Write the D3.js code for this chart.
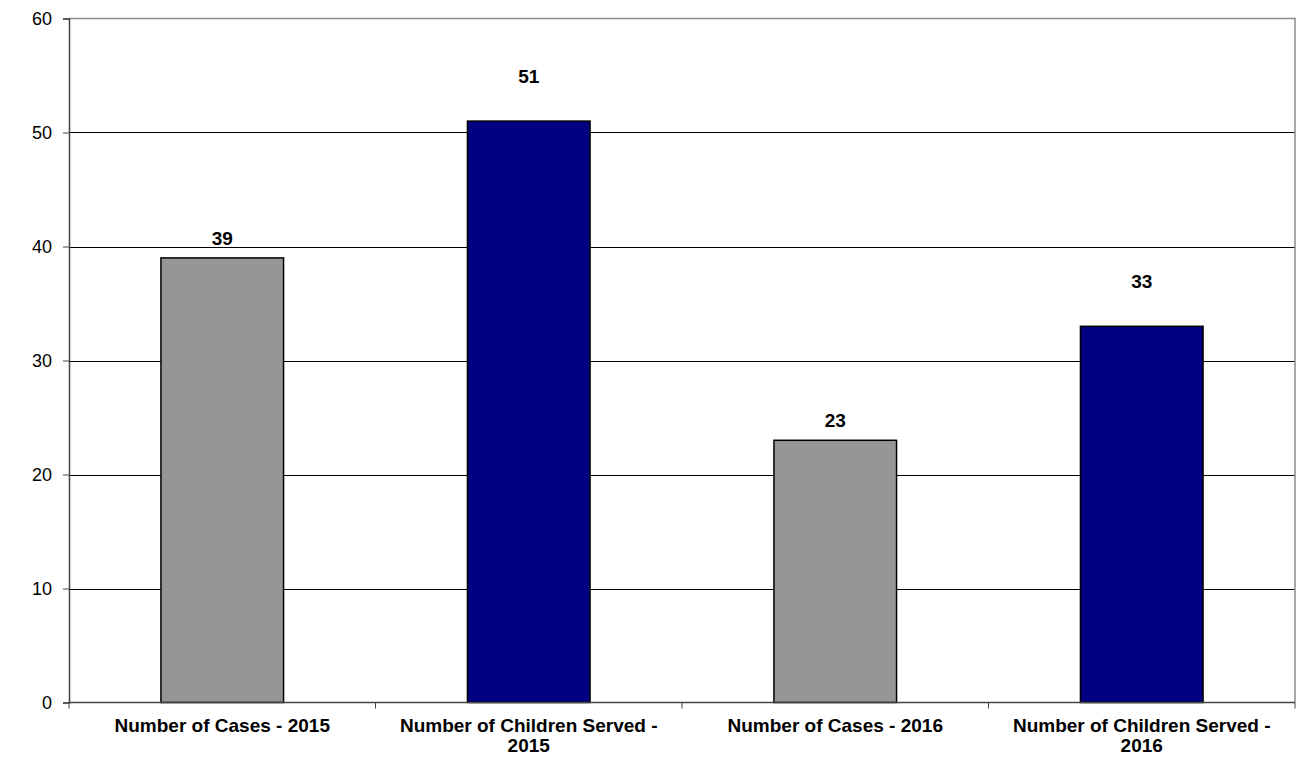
<!DOCTYPE html>
<html><head><meta charset="utf-8">
<script src="https://cdn.jsdelivr.net/npm/d3@7"></script>
<style>body{margin:0;background:#fff}svg{display:block}text{font-family:"Liberation Sans",Arial,sans-serif}</style>
</head><body><svg id="c" width="1303" height="757"></svg>
<script>
const categories = [["Number of Cases - 2015"],["Number of Children Served -","2015"],["Number of Cases - 2016"],["Number of Children Served -","2016"]];
const values = [39, 51, 23, 33];
const seriesType = ["cases","children","cases","children"];
const yTicks = [0,10,20,30,40,50,60];
const colors = {cases:"#969696", children:"#000080"};
const labelOffset = {cases:13, children:38};

const svg = d3.select("#c");
const m = {l:69, r:1295, t:18.5, b:702.5};
const x = d3.scaleBand().domain(d3.range(values.length)).range([m.l, m.r]).paddingInner(0).paddingOuter(0);
const y = d3.scaleLinear().domain([0,60]).range([m.b, m.t]);

// gridlines
svg.append("g").selectAll("line").data(yTicks.filter(d=>d>0 && d<60)).join("line")
  .attr("x1",m.l).attr("x2",m.r).attr("y1",d=>Math.round(y(d))+0.5).attr("y2",d=>Math.round(y(d))+0.5)
  .attr("stroke","#000").attr("stroke-width",1);
// top/right frame
svg.append("path").attr("d",`M${m.l},${m.t}H${m.r}V${m.b}`).attr("fill","none").attr("stroke","#8c8c8c").attr("stroke-width",1.5);

// bars
const bw = x.bandwidth()*0.4;
svg.append("g").selectAll("rect").data(values).join("rect")
  .attr("x",(d,i)=>x(i)+x.bandwidth()/2-bw/2).attr("width",bw)
  .attr("y",d=>y(d)).attr("height",d=>y(0)-y(d))
  .attr("fill",(d,i)=>colors[seriesType[i]]).attr("stroke","#000").attr("stroke-width",1.5);

// value labels
svg.append("g").selectAll("text").data(values).join("text")
  .attr("x",(d,i)=>x(i)+x.bandwidth()/2).attr("y",(d,i)=>y(d)-labelOffset[seriesType[i]])
  .attr("text-anchor","middle")
  .attr("font-size",19).attr("font-weight","bold").text(d=>d);

// y axis
const ya = svg.append("g").attr("transform",`translate(${m.l},0)`)
  .call(d3.axisLeft(y).tickValues(yTicks).tickSize(6).tickPadding(11));
ya.select(".domain").attr("stroke","#444").attr("stroke-width",1.5);
ya.selectAll(".tick line").attr("stroke","#444");
ya.selectAll("text").attr("font-size",18).attr("fill","#000").attr("font-family","Liberation Sans, Arial, sans-serif");

// x axis
const xa = svg.append("g").attr("transform",`translate(0,${m.b})`);
xa.append("line").attr("x1",m.l).attr("x2",m.r).attr("stroke","#444").attr("stroke-width",1.5);
xa.selectAll("line.t").data(d3.range(values.length+1)).join("line").attr("class","t")
  .attr("x1",i=>i<values.length?x(i):m.r).attr("x2",i=>i<values.length?x(i):m.r).attr("y1",0).attr("y2",6)
  .attr("stroke","#444");
const cl = xa.selectAll("text").data(categories).join("text")
  .attr("x",(d,i)=>x(i)+x.bandwidth()/2).attr("y",29.5)
  .attr("text-anchor","middle").attr("font-size",19).attr("font-weight","bold");
cl.each(function(lines){
  const t=d3.select(this);
  lines.forEach((s,k)=>t.append("tspan").attr("x",t.attr("x")).attr("dy",k?20:0).text(s));
});
</script></body></html>
